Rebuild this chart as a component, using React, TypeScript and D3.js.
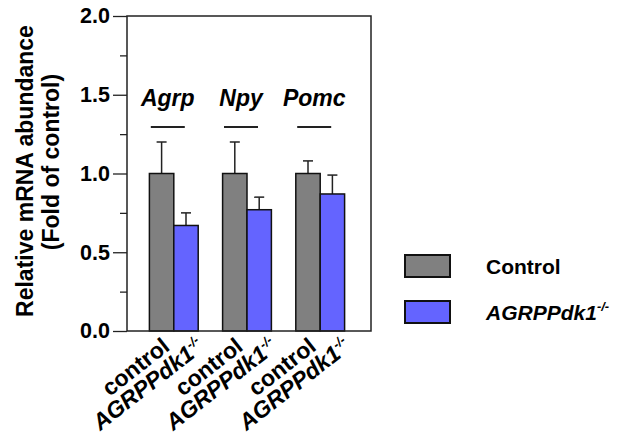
import React, { useEffect, useRef } from "react";
import * as d3 from "d3";

// genes and groups
const genes = ["Agrp", "Npy", "Pomc"];
const groups = ["control", "AGRPPdk1"];

// means and upper error (SEM)
const controlMean = [1.0, 1.0, 1.0];
const controlErr = [0.2, 0.2, 0.08];
const mutantMean = [0.67, 0.77, 0.87];
const mutantErr = [0.08, 0.08, 0.12];

const yTicks = [0, 0.5, 1.0, 1.5, 2.0];
const yMinorTicks = [0.25, 0.75, 1.25, 1.75];

const legendLabels = ["Control", "AGRPPdk1"];
const colors = ["#808080", "#6464ff"];

const W = 625;
const H = 438;
const FONT = "'Liberation Sans', Arial, Helvetica, sans-serif";

const App = () => {
    const svgRef = useRef<SVGSVGElement | null>(null);

    useEffect(() => {
        const svg = d3.select(svgRef.current);
        svg.selectAll("*").remove();

        const plot = { left: 127, right: 371, top: 16, bottom: 331 };

        const y = d3.scaleLinear().domain([0, 2]).range([plot.bottom, plot.top]);

        // bars sit about 2px left of an even split
        const x0 = d3.scaleBand<string>()
            .domain(genes)
            .range([plot.left - 2, plot.right - 2])
            .paddingInner(1 / 3)
            .paddingOuter(1 / 3);
        const x1 = d3.scaleBand<string>().domain(groups).range([0, x0.bandwidth()]);

        const rows = genes.flatMap((g, i) => [
            { gene: g, group: groups[0], mean: controlMean[i], err: controlErr[i], color: colors[0] },
            { gene: g, group: groups[1], mean: mutantMean[i], err: mutantErr[i], color: colors[1] },
        ]);
        const cx = (d: { gene: string; group: string }) =>
            (x0(d.gene) as number) + (x1(d.group) as number) + x1.bandwidth() / 2;

        // error bars (upper only)
        const eb = svg.append("g").attr("stroke", "#222").attr("stroke-width", 1.5);
        rows.forEach(d => {
            eb.append("line")
                .attr("x1", cx(d)).attr("x2", cx(d))
                .attr("y1", y(d.mean)).attr("y2", y(d.mean + d.err));
            eb.append("line")
                .attr("x1", cx(d) - 5).attr("x2", cx(d) + 5)
                .attr("y1", y(d.mean + d.err)).attr("y2", y(d.mean + d.err));
        });

        // bars
        svg.append("g")
            .selectAll("rect")
            .data(rows)
            .join("rect")
            .attr("x", d => (x0(d.gene) as number) + (x1(d.group) as number))
            .attr("y", d => y(d.mean))
            .attr("width", x1.bandwidth())
            .attr("height", d => y(0) - y(d.mean))
            .attr("fill", d => d.color)
            .attr("stroke", "#111")
            .attr("stroke-width", 1.5);

        // frame
        svg.append("rect")
            .attr("x", plot.left).attr("y", plot.top)
            .attr("width", plot.right - plot.left).attr("height", plot.bottom - plot.top)
            .attr("fill", "none").attr("stroke", "#222").attr("stroke-width", 1.5);

        // y axis
        const yAxis = svg.append("g")
            .attr("transform", `translate(${plot.left},0)`)
            .call(d3.axisLeft(y).tickValues(yTicks).tickFormat(d3.format(".1f")).tickSize(14).tickPadding(3));
        yAxis.select(".domain").remove();
        yAxis.selectAll("text")
            .attr("font-family", FONT).attr("font-size", 21.5).attr("font-weight", "bold").attr("fill", "#000");
        yAxis.selectAll("line").attr("stroke", "#222").attr("stroke-width", 1.3);

        const yMinor = svg.append("g")
            .attr("transform", `translate(${plot.left},0)`)
            .call(d3.axisLeft(y).tickValues(yMinorTicks).tickFormat(() => "").tickSize(7));
        yMinor.select(".domain").remove();
        yMinor.selectAll("line").attr("stroke", "#222").attr("stroke-width", 1.3);

        // y title
        const title = svg.append("g")
            .attr("font-family", FONT).attr("font-weight", "bold").attr("font-size", 23)
            .attr("text-anchor", "middle");
        title.append("text")
            .attr("transform", `translate(33,171) rotate(-90)`)
            .text("Relative mRNA abundance");
        title.append("text")
            .attr("transform", `translate(59,162) rotate(-90)`)
            .text("(Fold of control)");

        // gene labels with bars under them
        genes.forEach(g => {
            const c = (x0(g) as number) + x0.bandwidth() / 2 - 6;
            svg.append("text")
                .attr("x", c).attr("y", 106)
                .attr("text-anchor", "middle")
                .attr("font-family", FONT).attr("font-size", 23)
                .attr("font-weight", "bold").attr("font-style", "italic")
                .text(g);
            svg.append("line")
                .attr("x1", c - 17).attr("x2", c + 17)
                .attr("y1", 127).attr("y2", 127)
                .attr("stroke", "#222").attr("stroke-width", 2);
        });

        // x category labels, rotated
        rows.forEach(d => {
            const isCtrl = d.group === groups[0];
            const t = svg.append("text")
                .attr("transform", `translate(${cx(d) + (isCtrl ? 9.5 : 19.5)},${isCtrl ? 349 : 349}) rotate(-38)`)
                .attr("text-anchor", "end")
                .attr("font-family", FONT).attr("font-size", 23).attr("font-weight", "bold");
            if (isCtrl) {
                t.text("control");
            } else {
                t.attr("font-style", "italic");
                t.append("tspan").text(d.group);
                t.append("tspan").attr("font-size", 13).attr("dy", -9).text("-/-");
            }
        });

        // legend
        const lg = svg.append("g");
        legendLabels.forEach((l, i) => {
            const top = 255 + i * 46;
            lg.append("rect")
                .attr("x", 405).attr("y", top).attr("width", 45).attr("height", 22)
                .attr("fill", colors[i]).attr("stroke", "#111").attr("stroke-width", 2);
            const t = lg.append("text")
                .attr("x", 486).attr("y", top + 19)
                .attr("font-family", FONT).attr("font-size", 21).attr("font-weight", "bold");
            if (i === 0) {
                t.text(l);
            } else {
                t.attr("font-style", "italic");
                t.append("tspan").text(l);
                t.append("tspan").attr("font-size", 13).attr("dy", -9).text("-/-");
            }
        });
    }, []);

    return (
        <svg
            ref={svgRef}
            width={W}
            height={H}
            style={{ position: "absolute", left: 0, top: 0, background: "#fff" }}
        />
    );
};

export default App;
